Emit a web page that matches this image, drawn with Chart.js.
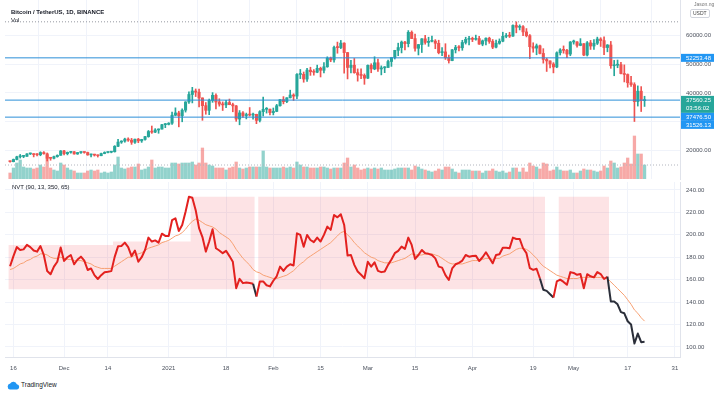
<!DOCTYPE html>
<html><head><meta charset="utf-8">
<script src="https://cdn.jsdelivr.net/npm/chart.js@4.4.1/dist/chart.umd.min.js"></script>
<style>
html,body{margin:0;padding:0;background:#fff;}
body{width:714px;height:397px;position:relative;overflow:hidden;font-family:"Liberation Sans",Arial,sans-serif;}
canvas{position:absolute;left:0;}
#c1{top:0;} #c2{top:180px;}
.t{position:absolute;white-space:nowrap;line-height:1;}
</style></head><body>
<canvas id="c1" width="714" height="180"></canvas>
<canvas id="c2" width="714" height="200"></canvas>
<div class="t" style="left:11px;top:9px;font-size:6px;color:#131722;font-weight:bold;">Bitcoin / TetherUS, 1D, BINANCE</div>
<div class="t" style="left:11px;top:17px;font-size:6px;color:#131722;">Vol</div>
<div class="t" style="left:12px;top:184px;font-size:6px;color:#131722;">NVT (90, 13, 350, 65)</div>
<div class="t" style="left:694px;top:2px;font-size:5px;color:#777;">Jason.ng</div>
<div class="t" style="left:690px;top:9px;font-size:5px;color:#444;border:1px solid #d1d4dc;border-radius:2px;padding:1px 2px;">USDT</div>
<div style="position:absolute;left:7px;top:381px;height:9px;">
<svg width="13" height="9" viewBox="0 0 13 9" style="position:absolute;left:0;top:0"><path d="M3 8.5 A3 3 0 0 1 3.2 2.6 A3.6 3.6 0 0 1 9.8 3.2 A2.7 2.7 0 0 1 10.2 8.5 Z" fill="#2196f3"/></svg>
<div class="t" style="left:14px;top:1px;font-size:6.5px;color:#131722;">TradingView</div>
</div>
<script>
// ---------- data (day index 1 = 2020-11-15) ----------
const tickDays   = [2, 17, 30, 48, 65, 79, 93, 107, 121, 138, 156, 168, 184, 198];
const tickLabels = ['16','Dec','14','2021','18','Feb','15','Mar','15','Apr','19','May','17','31'];
const priceTicks = [20000, 30000, 40000, 50000, 60000];
const nvtTicks   = [100, 120, 140, 160, 180, 200, 220, 240];

const open = [16070,15960,16720,17660,17800,17820,18660,18700,18420,18370,19150,18720,17150,17140,17720,18180,
 19700,18760,19200,19420,18650,19150,19360,19170,18320,18550,18250,18030,18800,19170,19270,19430,21340,22800,23130,23860,23480,22740,23820,23230,23730,24710,26490,26280,27040,27360,28890,
 28990,29410,32200,33000,31990,33970,36830,39440,40670,40240,38240,35540,33910,37370,39150,36830,36070,35810,36630,35900,35470,30850,33000,32080,32260,32250,32510,30400,33440,34280,34320,
 33110,33530,35510,37660,36950,38290,39260,38880,46450,46510,44840,47970,47410,47230,48590,47910,49140,52120,51550,55890,55840,57410,54090,48890,49680,47070,46280,46100,
 45140,49630,48380,50540,48370,48760,48880,50970,52380,54880,55850,57770,57220,61190,59000,55600,56900,58910,57650,58030,58100,57350,54080,54340,52300,51300,55070,55880,55780,57630,58730,
 58740,58720,58990,57060,58200,59130,57990,56000,57360,58080,59770,59980,59860,63580,62950,63150,61330,60010,56150,55660,56470,53800,51700,51190,50100,49060,54030,55040,54880,53580,
 57800,57830,56610,57210,53240,57510,56390,57360,58840,58280,55860,56750,49500,49690,49880,46760,46430,43540,42900,36970,40600,37300];
const high = [16150,16880,17860,18480,18180,18820,18970,18750,18770,19420,19480,19000,17450,17880,18350,19860,
 19920,19340,19580,19520,19180,19420,19390,19300,18650,18560,18290,18950,19410,19350,19570,21560,23800,23280,24170,24300,24100,23840,24100,23780,24790,26870,28420,27500,27410,28990,29300,
 29600,33300,34780,33600,34440,36940,40370,41950,41380,41350,38260,36630,37850,40100,39700,37950,36850,37400,37850,36420,35600,33830,33460,32940,34880,32920,32560,33780,38530,34880,34330,
 34720,35980,37660,38700,38320,40950,39700,46790,48200,47310,48630,48980,48150,49710,49000,50620,52620,52530,56370,57770,58350,57530,54180,51370,52040,48390,48390,46640,
 49790,50200,52640,51830,49450,49200,51450,52400,54900,57390,58150,58060,61790,61680,60600,56940,58980,60130,59470,59880,58620,58420,55830,57200,53230,55180,56640,56560,58400,59470,59800,
 59490,60200,59790,58500,59250,59480,58670,58470,58880,61220,60790,61200,63770,64850,63800,63520,62500,60410,57530,57100,56760,55470,52130,51200,50590,54360,55470,56430,55200,57960,
 58460,57940,58980,57240,57970,58360,58650,59500,59300,59600,56900,58000,51370,51500,50700,49800,46640,45800,43550,42450,42200,38830];
const low = [15780,15870,16560,17210,17340,17760,18450,17620,18000,18020,18570,16190,16460,16890,17510,18180,
 18330,18330,18920,18570,18500,18860,18900,18200,17650,17910,17570,18020,18710,19000,19050,19300,21230,22350,22750,23060,22000,22350,22600,22700,23430,24500,25860,26100,25880,27320,27850,
 28800,28950,32000,28130,29900,33290,36300,36500,38720,35110,30420,32530,32380,36700,34410,35360,33850,34800,35850,33400,30070,28850,31390,30900,31910,30840,29240,29840,31920,32940,32300,
 32300,33420,35360,36160,36570,38220,37350,37990,45000,43730,43990,46130,46200,47050,45570,47000,48950,50900,50710,53870,55480,46900,44890,47000,46860,44110,45000,43000,
 45020,47050,48100,47500,46300,47070,48880,49270,51850,53000,53980,55000,56080,58970,54600,53270,54120,57020,56270,57820,55450,53650,53000,51700,50430,51230,53960,54690,54900,57070,56770,
 57930,58430,56960,56480,56800,57330,55470,55700,57020,57870,59270,59370,59770,61000,62020,60000,59580,51990,54220,53330,53600,50400,47500,48750,47000,48800,53250,53880,52330,53000,
 57050,56000,56480,53000,52900,55200,55240,56900,56240,53400,54370,48600,46000,48800,46660,43830,42000,42300,30000,35400,33490,35260];
const close = [15960,16720,17660,17800,17820,18660,18700,18420,18370,19150,18720,17150,17140,17720,18180,19700,
 18760,19200,19420,18650,19150,19360,19170,18320,18550,18250,18030,18800,19170,19270,19430,21340,22800,23130,23860,23480,22740,23820,23230,23730,24710,26490,26280,27040,27360,28890,28990,
 29410,32200,33000,31990,33970,36830,39440,40670,40240,38240,35540,33910,37370,39150,36830,36070,35810,36630,35900,35470,30850,33000,32080,32260,32250,32510,30400,33440,34280,34320,33110,
 33530,35510,37660,36950,38290,39260,38880,46450,46510,44840,47970,47410,47230,48590,47910,49140,52120,51550,55890,55840,57410,54090,48890,49680,47070,46280,46100,45140,
 49630,48380,50540,48370,48760,48880,50970,52380,54880,55850,57770,57220,61190,59000,55600,56900,58910,57650,58030,58100,57350,54080,54340,52300,51300,55070,55880,55780,57630,58730,58740,
 58720,58990,57060,58200,59130,57990,56000,57360,58080,59770,59980,59860,63580,62950,63150,61330,60010,56150,55660,56470,53800,51700,51190,50100,49060,54030,55040,54880,53580,57800,
 57830,56610,57210,53240,57510,56390,57360,58840,58280,55860,56750,49500,49690,49880,46760,46430,43540,42900,36970,40600,37300,37560.25];
const volume = [48,88,128,152,96,88,88,80,88,112,96,192,88,72,64,128,
 112,88,72,64,48,48,48,64,72,64,72,48,56,48,56,112,176,88,80,88,96,96,120,72,80,96,152,88,96,96,88,
 88,128,128,120,128,128,128,136,112,128,248,128,112,104,88,88,88,72,88,96,136,88,80,88,96,96,96,96,224,96,88,
 88,88,88,96,88,96,88,136,112,96,96,88,88,88,96,96,88,80,88,88,88,128,168,96,112,88,72,80,
 88,80,88,80,88,72,72,72,80,88,88,88,88,72,104,96,80,72,64,56,64,80,72,96,96,80,56,48,72,72,72,
 64,64,64,48,64,64,80,64,56,64,48,56,88,88,56,88,56,128,104,96,80,128,120,64,72,96,72,64,64,72,
 48,48,64,80,72,72,64,56,64,104,88,144,128,88,96,128,168,120,344,200,200,112];

const nvt = [172,181,189,186.5,187,191,189,186,185,190,182,167.7,164.8,171.6,176,188.6,
 176.7,180,182,173.7,178,180.5,177,168.6,170,164,160.6,164,166.7,167,167.6,180.3,189.7,190,193,189,181,186,176,180,186.5,197.5,194,195,193,201,199,
 199,213,214.7,203.4,208.7,220.6,234,233,222,206,198,185,194,205,188,186,183.6,185.7,181,176,152.4,160.7,156.9,157.5,157,156.3,145,158.4,158.4,155,154,
 159,163,171.6,167.8,171.6,173.7,172.6,201.3,199.9,189.4,199.9,195.4,193.4,197.5,194,199.9,207.3,204.4,217.7,215.6,218.3,208.8,181.5,182,173.2,167.3,164.3,161.3,
 176,171.6,175.5,167.8,166.7,167.3,173.2,178,183.6,185.7,189.5,187.4,197.5,191,178.5,182,186.5,183.5,183,182,179,171.6,170.7,164,159.7,170,173.7,175,177,182,180.5,
 181,181.4,176.6,180,184.4,179.6,174.6,182,182.6,188.5,188.5,188,197.5,196.3,196.3,188,183.6,170.3,168.7,169.7,161,151,150,147,144,158.4,160,158,155.4,166.7,
 166,164.3,165,152.4,164.9,163,162,166.7,165,160.6,162.6,140.6,140.6,138,131,130,122.9,120,103,111.9,104.2,104.5];
const nvtMa = [169,170,172,174,175,177,178,180,181,183,183,182,180,179,179,180,
 179,178,178,177,177,177,176,175,174,172,171,170,170,170,170,172,174,176,178,180,180,182,183,184,186,188,189,190,191,193,194,
 195,197,199,200,202,205,209,212,214,213,211,209,208,207,205,202,200,198,196,192,187,183,179,176,173,169,167,166,164,163,162,
 161,161,162,163,164,166,168,171,174,176,179,181,183,185,187,189,191,193,196,199,202,203,200,197,193,190,187,184,
 182,180,179,177,176,175,175,175,176,177,178,179,181,183,182,182,182,183,183,183,182,181,179,177,175,174,174,174,174,175,176,
 177,177,177,178,179,179,178,179,179,181,182,183,185,187,188,188,187,185,182,179,175,172,170,168,166,164,163,162,161,161,
 161,161,162,162,162,162,162,162,162,161,161,158,155,152,149,146,142,138,133,130,126,123];

const hLevels    = [52253.48, 37476.50, 31526.13];
const athHigh    = 64854;
const lastPrice  = 37560.25;
const countdown  = '03:56:02';
const bandLow    = 151.5;
const nvtLow     = 152;
const bandSegments = [[1,31,191],[32,54,194],[55,73,234],[75,159,234],[164,178,234]];

// ---------- styles ----------
const UP='#26a69a', DN='#ef5350', UPV='rgba(38,166,154,0.5)', DNV='rgba(239,83,80,0.5)';
const GRID='#f0f3fa', AXIS='#e0e3eb', TXT='#4c525e', BLUE_LINE='#2b8fd8', BLUE_BOX='#2196f3';
Chart.defaults.font.family='"Liberation Sans", Arial, sans-serif';
Chart.defaults.font.size=6;
Chart.defaults.color=TXT;
Chart.defaults.animation=false;

const N = close.length;
const dayOf = i => i + 1;
const isUp = i => close[i] >= open[i];
const XMIN=-0.5, XMAX=199.5;

const xTicks = s => { s.ticks = tickDays.map(v=>({value:v})); };
const noPad = s => { s.paddingTop=0; s.paddingBottom=0; };

// ---------- top chart ----------
const priceLabels = {
  id:'priceLabels',
  afterDraw(chart){
    const ctx=chart.ctx, y=chart.scales.y, x0=chart.chartArea.right+1, w=chart.width-x0;
    const items = [
      {v:hLevels[0], h:8, bg:BLUE_BOX, lines:[hLevels[0].toFixed(2)]},
      {v:lastPrice, h:17, bg:UP, lines:[lastPrice.toFixed(2), countdown], pri:1},
      {v:hLevels[1], h:8, bg:BLUE_BOX, lines:[hLevels[1].toFixed(2)]},
      {v:hLevels[2], h:8, bg:BLUE_BOX, lines:[hLevels[2].toFixed(2)]}
    ];
    items.forEach(it=>{ it.top = y.getPixelForValue(it.v) - 4; });
    items.sort((a,b)=> a.top-b.top || (b.pri||0)-(a.pri||0));
    let prevBottom=-1e9;
    ctx.save();
    ctx.font='6px "Liberation Sans", Arial, sans-serif';
    ctx.textBaseline='middle';
    items.forEach(it=>{
      const top=Math.max(it.top, prevBottom);
      prevBottom=top+it.h;
      ctx.fillStyle=it.bg;
      ctx.fillRect(x0, top, w, it.h);
      ctx.fillStyle='#fff';
      it.lines.forEach((t,k)=>ctx.fillText(t, x0+5, top+4+k*8));
    });
    ctx.restore();
  }
};

const hLineSets = hLevels.map(v=>({
  type:'line', data:[{x:XMIN,y:v},{x:XMAX,y:v}], borderColor:BLUE_LINE, backgroundColor:BLUE_LINE,
  borderWidth:1, pointRadius:0, yAxisID:'y', order:0, fill:false
}));

new Chart(document.getElementById('c1'), {
  type:'bar',
  data:{datasets:[
    {type:'bar', yAxisID:'yv', grouped:false, order:5, barThickness:2.6,
     data:volume.map((v,i)=>({x:dayOf(i),y:v})),
     backgroundColor:volume.map((v,i)=>isUp(i)?UPV:DNV)},
    {type:'bar', yAxisID:'y', grouped:false, order:3, barThickness:1,
     data:close.map((c,i)=>({x:dayOf(i),y:[low[i],high[i]]})),
     backgroundColor:close.map((c,i)=>isUp(i)?UP:DN)},
    {type:'bar', yAxisID:'y', grouped:false, order:2, barThickness:2.4, minBarLength:1,
     data:close.map((c,i)=>({x:dayOf(i),y:[open[i],c]})),
     backgroundColor:close.map((c,i)=>isUp(i)?UP:DN)},
    ...hLineSets,
    {type:'line', yAxisID:'y', order:1, data:[{x:XMIN,y:athHigh},{x:XMAX,y:athHigh}], fill:false,
     borderColor:'#9598a1', borderWidth:1, borderDash:[1,2], pointRadius:0},
    {type:'line', yAxisID:'yv', order:1, data:[{x:XMIN,y:volume[N-1]},{x:XMAX,y:volume[N-1]}], fill:false,
     borderColor:'#b2b5be', borderWidth:1, borderDash:[1,2], pointRadius:0}
  ]},
  options:{
    responsive:false, animation:false, events:[],
    layout:{padding:{left:5,right:0,top:0,bottom:1}},
    plugins:{legend:{display:false}, tooltip:{enabled:false}},
    scales:{
      x:{type:'linear', min:XMIN, max:XMAX, offset:false, afterBuildTicks:xTicks,
         ticks:{display:false}, grid:{color:GRID, drawTicks:false}, border:{display:false},
         afterFit:s=>{s.height=0; s.paddingLeft=0; s.paddingRight=0;}},
      y:{position:'right', min:9895, max:72483,
         afterBuildTicks:s=>{s.ticks=priceTicks.map(v=>({value:v}));},
         afterFit:s=>{s.width=34; noPad(s);},
         ticks:{callback:v=>v.toFixed(2), padding:6, color:TXT, font:{size:6}},
         grid:{color:GRID, drawTicks:false}, border:{color:AXIS}},
      yv:{display:false, min:0, max:1432, afterFit:noPad}
    }
  },
  plugins:[priceLabels]
});

// ---------- bottom chart (NVT) ----------
const bandPts=[];
bandSegments.forEach(([s,e,top],k)=>{
  bandPts.push({x:s-0.5,y:top},{x:e+0.5,y:top});
  const nx=bandSegments[k+1];
  if(!nx || nx[0]!==e+1) bandPts.push({x:e+0.5,y:null});
});

new Chart(document.getElementById('c2'), {
  type:'line',
  data:{datasets:[
    {data:bandPts, borderWidth:0, pointRadius:0, fill:{value:bandLow},
     backgroundColor:'rgba(242,54,69,0.14)', borderColor:'rgba(0,0,0,0)', spanGaps:false, order:3},
    {data:nvtMa.map((v,i)=>({x:dayOf(i),y:v})), borderColor:'#f7a072', borderWidth:1, pointRadius:0, order:2, fill:false},
    {data:nvt.map((v,i)=>({x:dayOf(i),y:v})), borderWidth:2, pointRadius:0, order:1, fill:false,
     borderColor:'#e3211f', borderJoinStyle:'round',
     segment:{borderColor:c=> c.p1.parsed.y < nvtLow ? '#2a2e39' : '#e3211f'}}
  ]},
  options:{
    responsive:false, animation:false, events:[],
    layout:{padding:{left:5,right:0,top:2,bottom:0}},
    plugins:{legend:{display:false}, tooltip:{enabled:false}},
    scales:{
      x:{type:'linear', min:XMIN, max:XMAX, offset:false, afterBuildTicks:xTicks,
         afterFit:s=>{s.height=23; s.paddingLeft=0; s.paddingRight=0;},
         ticks:{autoSkip:false, maxRotation:0, padding:8, color:TXT, font:{size:6},
                callback:v=>tickLabels[tickDays.indexOf(v)]},
         grid:{color:GRID, drawTicks:false}, border:{color:AXIS}},
      y:{position:'right', min:91, max:247.1,
         afterBuildTicks:s=>{s.ticks=nvtTicks.map(v=>({value:v}));},
         afterFit:s=>{s.width=34; noPad(s);},
         ticks:{callback:v=>v.toFixed(2), padding:6, color:TXT, font:{size:6}},
         grid:{color:GRID, drawTicks:false}, border:{color:AXIS}}
    }
  }
});
</script>
</body></html>
